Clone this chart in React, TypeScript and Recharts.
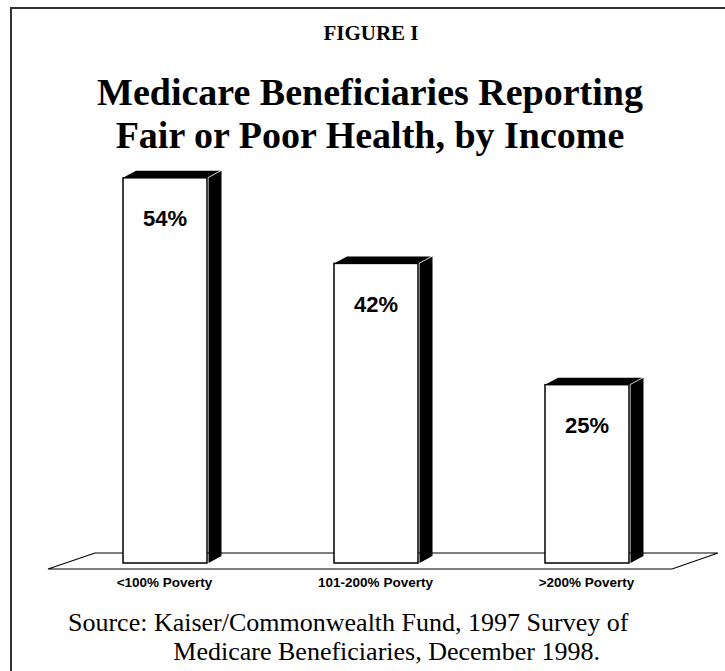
import React from "react";
import { BarChart, Bar, XAxis, YAxis, LabelList } from "recharts";

const categories = ["<100% Poverty", "101-200% Poverty", ">200% Poverty"];
const values = [54, 42, 25];
const valueLabels = ["54%", "42%", "25%"];

const data = categories.map((c, i) => ({ name: c, value: values[i], label: valueLabels[i] }));

const serif = "'Liberation Serif', 'Times New Roman', serif";
const sans = "'Liberation Sans', Arial, sans-serif";

const Bar3D = (props: any) => {
  const { x, y, width, height } = props;
  if (x == null || y == null) return null;
  const dx = 13;
  const dy = 7;
  const b = y + height;
  const sx = x + width + 1.5;
  return (
    <g>
      <polygon
        points={`${sx},${y} ${sx + dx},${y - dy} ${sx + dx},${b - dy} ${sx},${b}`}
        fill="#000"
      />
      <polygon
        points={`${x},${y} ${x + dx},${y - dy} ${x + width + dx},${y - dy} ${x + width},${y}`}
        fill="#000"
      />
      <rect x={x} y={y} width={width} height={height} fill="#fff" stroke="#000" strokeWidth={1.5} />
    </g>
  );
};

const ValueLabel = (props: any) => {
  const { x, y, width, value } = props;
  return (
    <text
      x={x + width / 2}
      y={y + 41}
      textAnchor="middle"
      dominantBaseline="central"
      fontFamily={sans}
      fontWeight="bold"
      fontSize={22}
      fill="#000"
    >
      {value}
    </text>
  );
};

const CatTick = (props: any) => {
  const { x, y, payload } = props;
  return (
    <text
      x={x}
      y={y + 19}
      textAnchor="middle"
      dominantBaseline="central"
      fontFamily={sans}
      fontWeight="bold"
      fontSize={13.5}
      fill="#000"
    >
      {payload.value}
    </text>
  );
};

export default function App() {
  return (
    <div
      style={{
        position: "absolute",
        left: 0,
        top: 0,
        width: 725,
        height: 671,
        overflow: "hidden",
        background: "#fff",
      }}
    >
      <div
        style={{
          position: "absolute",
          left: 10,
          top: 7,
          width: 760,
          height: 720,
          borderLeft: "2px solid #333",
          borderTop: "2px solid #333",
        }}
      />
      <svg width={725} height={671} style={{ position: "absolute", left: 0, top: 0 }}>
        <polygon points="95,553 718,553 672,569 48,569" fill="#fff" stroke="#000" strokeWidth={1.2} />
      </svg>
      <div
        style={{
          position: "absolute",
          left: 0,
          width: 742,
          top: 21,
          textAlign: "center",
          fontFamily: serif,
          fontWeight: "bold",
          fontSize: 21,
          lineHeight: "24px",
        }}
      >
        FIGURE I
      </div>
      <div
        style={{
          position: "absolute",
          left: 0,
          width: 740,
          top: 71,
          textAlign: "center",
          fontFamily: serif,
          fontWeight: "bold",
          fontSize: 38,
          lineHeight: "43px",
        }}
      >
        Medicare Beneficiaries Reporting
        <br />
        Fair or Poor Health, by Income
      </div>
      <div style={{ position: "absolute", left: 0, top: 0 }}>
        <BarChart
          width={725}
          height={671}
          data={data}
          margin={{ top: 135, right: 33, left: 59, bottom: 68 }}
        >
          <XAxis
            dataKey="name"
            height={40}
            axisLine={false}
            tickLine={false}
            tickSize={0}
            tickMargin={0}
            interval={0}
            tick={<CatTick />}
          />
          <YAxis hide domain={[0, 60]} />
          <Bar dataKey="value" barSize={84} shape={<Bar3D />} isAnimationActive={false}>
            <LabelList dataKey="label" content={<ValueLabel />} />
          </Bar>
        </BarChart>
      </div>
      <div
        style={{
          position: "absolute",
          left: 68,
          top: 610,
          whiteSpace: "nowrap",
          fontFamily: serif,
          fontSize: 26,
          lineHeight: "25px",
        }}
      >
        Source: Kaiser/Commonwealth Fund, 1997 Survey of
      </div>
      <div
        style={{
          position: "absolute",
          right: 125,
          top: 639,
          whiteSpace: "nowrap",
          textAlign: "right",
          fontFamily: serif,
          fontSize: 26,
          lineHeight: "25px",
        }}
      >
        Medicare Beneficiaries, December 1998.
      </div>
    </div>
  );
}
